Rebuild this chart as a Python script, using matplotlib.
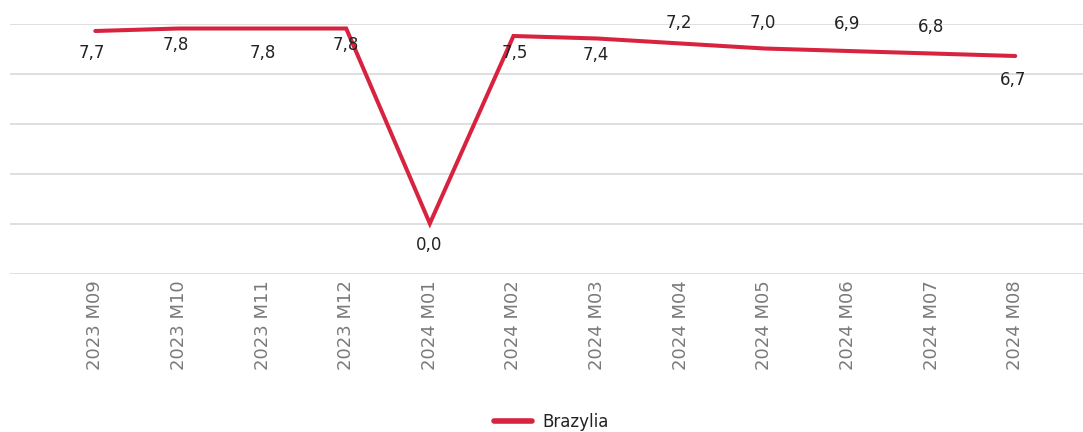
import matplotlib
matplotlib.use("Agg")
import matplotlib.pyplot as plt

# data
months = ['2023 M09', '2023 M10', '2023 M11', '2023 M12', '2024 M01', '2024 M02',
          '2024 M03', '2024 M04', '2024 M05', '2024 M06', '2024 M07', '2024 M08']
brazil = [7.7, 7.8, 7.8, 7.8, 0.0, 7.5, 7.4, 7.2, 7.0, 6.9, 6.8, 6.7]
series_name = 'Brazylia'

# label offsets in pixels (dx, dy), mimicking the original smart placement
label_offsets = [(-3, -22), (-3, -17), (0, -24), (0, -17), (-1, -22), (1, -17),
                 (-1, -17), (-2, 20), (-2, 25), (-1, 27), (-1, 26), (-2, -24)]

colors = {
    'line': '#D7233F',
    'grid': '#D9D9D9',
    'tick': '#7A7A7A',
    'text': '#222222',
}

W, H, DPI = 1083, 432, 100
fig = plt.figure(figsize=(W / DPI, H / DPI), dpi=DPI)
ax = fig.add_axes([10 / W, (H - 273.5) / H, 1073 / W, 250 / H])

x = list(range(len(months)))
line, = ax.plot(x, brazil, color=colors['line'], lw=2.9, solid_capstyle='round',
                solid_joinstyle='miter', label=series_name, zorder=3)

for xi, val, (dx, dy) in zip(x, brazil, label_offsets):
    ax.annotate(f'{val:.1f}'.replace('.', ','), (xi, val),
                xytext=(dx * 72 / DPI, dy * 72 / DPI), textcoords='offset points',
                ha='center', va='center', fontsize=12, color=colors['text'],
                annotation_clip=False, zorder=4)

ax.set_xlim(-1.02, 11.81)
ax.set_ylim(-2, 8)
ax.set_yticks([-2, 0, 2, 4, 6, 8])
ax.yaxis.grid(True, color=colors['grid'], lw=1.2)
ax.set_axisbelow(True)
ax.tick_params(axis='y', length=0, labelleft=False)
ax.set_xticks(x)
ax.set_xticklabels(months, rotation=90, color=colors['tick'], fontsize=13)
ax.tick_params(axis='x', length=0, pad=5)
for s in ax.spines.values():
    s.set_visible(False)

leg = fig.legend(handles=[line], loc='center', bbox_to_anchor=(551 / W, 10 / H),
                 frameon=False, fontsize=12, handlelength=2.3, handletextpad=0.6)
for t in leg.get_texts():
    t.set_color(colors['text'])
leg.get_lines()[0].set_linewidth(4)

fig.savefig('out.png', dpi=DPI, facecolor='white')
